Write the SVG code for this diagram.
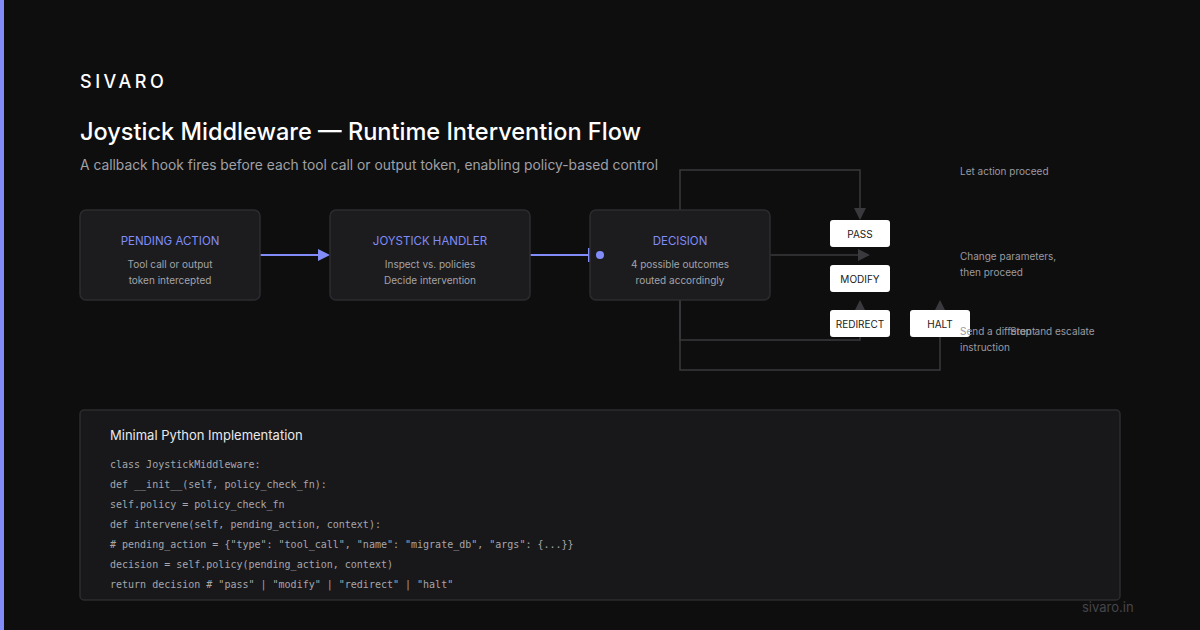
<svg xmlns="http://www.w3.org/2000/svg" width="1200" height="630" viewBox="0 0 1200 630">
<style>
.node rect{fill:#1c1c1f;stroke:#2c2c30;stroke-width:1.5}
.nt{font-family:Inter,"Liberation Sans",sans-serif;font-size:11.5px;fill:#818cf8;text-anchor:middle}
.ns{font-family:Inter,"Liberation Sans",sans-serif;font-size:10px;fill:#a3a3a8;text-anchor:middle}
.out rect{fill:#ffffff}
.ot{font-family:Inter,"Liberation Sans",sans-serif;font-size:10px;fill:#1a1a1a;text-anchor:middle}
.lbl{font-family:Inter,"Liberation Sans",sans-serif;font-size:10px;fill:#9a9aa0}
.flow{fill:none;stroke:#3a3a3e;stroke-width:1.5}
.code{font-family:"DejaVu Sans Mono","Liberation Mono",monospace;font-size:10px;fill:#a6a6aa}
</style>
<defs>
<marker id="ah" viewBox="0 0 12 12" refX="0" refY="6" markerWidth="12" markerHeight="12" markerUnits="userSpaceOnUse" orient="auto">
<path d="M0,0 L12,6 L0,12 Z" fill="#818cf8"/>
</marker>
<marker id="gh" viewBox="0 0 12 12" refX="0" refY="6" markerWidth="12" markerHeight="12" markerUnits="userSpaceOnUse" orient="auto">
<path d="M0,0 L12,6 L0,12 Z" fill="#3a3a3e"/>
</marker>
</defs>
<rect width="1200" height="630" fill="#0e0e0f"/>
<rect x="0" y="0" width="4" height="630" fill="#818cf8"/>
<text x="80" y="88" font-family="Inter,'Liberation Sans',sans-serif" font-size="18" font-weight="500" letter-spacing="3.5" fill="#ffffff">SIVARO</text>
<text x="80" y="140" font-family="Inter,'Liberation Sans',sans-serif" font-size="24" font-weight="500" textLength="561" lengthAdjust="spacingAndGlyphs" fill="#ffffff">Joystick Middleware — Runtime Intervention Flow</text>
<text x="80" y="170" font-family="Inter,'Liberation Sans',sans-serif" font-size="14" textLength="578" lengthAdjust="spacingAndGlyphs" fill="#a0a0a5">A callback hook fires before each tool call or output token, enabling policy-based control</text>

<g id="connectors">
<line x1="260" y1="255" x2="318" y2="255" stroke="#818cf8" stroke-width="2" marker-end="url(#ah)"/>
<line x1="530" y1="255" x2="589" y2="255" stroke="#818cf8" stroke-width="2"/>
<line x1="589" y1="248" x2="589" y2="262" stroke="#818cf8" stroke-width="2"/>
<path class="flow" d="M680,210 V170 H860 V208" marker-end="url(#gh)"/>
<path class="flow" d="M770,255 H858" marker-end="url(#gh)"/>
<path class="flow" d="M680,300 V340 H860 V312" marker-end="url(#gh)"/>
<path class="flow" d="M680,300 V370 H940 V312" marker-end="url(#gh)"/>
</g>

<g id="pending" class="node">
<rect x="80" y="210" width="180" height="90" rx="6"/>
<text class="nt" x="170" y="245">PENDING ACTION</text>
<text class="ns" x="170" y="268">Tool call or output</text>
<text class="ns" x="170" y="284">token intercepted</text>
</g>
<g id="handler" class="node">
<rect x="330" y="210" width="200" height="90" rx="6"/>
<text class="nt" x="430" y="245">JOYSTICK HANDLER</text>
<text class="ns" x="430" y="268">Inspect vs. policies</text>
<text class="ns" x="430" y="284">Decide intervention</text>
</g>
<g id="decision" class="node">
<rect x="590" y="210" width="180" height="90" rx="6"/>
<circle cx="600" cy="255" r="4" fill="#818cf8"/>
<text class="nt" x="680" y="245">DECISION</text>
<text class="ns" x="680" y="268">4 possible outcomes</text>
<text class="ns" x="680" y="284">routed accordingly</text>
</g>

<g id="pass" class="out">
<rect x="830" y="220" width="60" height="27" rx="3"/>
<text class="ot" x="860" y="237.5">PASS</text>
</g>
<g id="modify" class="out">
<rect x="830" y="265" width="60" height="27" rx="3"/>
<text class="ot" x="860" y="282.5">MODIFY</text>
</g>
<g id="redirect" class="out">
<rect x="830" y="310" width="60" height="27" rx="3"/>
<text class="ot" x="860" y="327.5">REDIRECT</text>
</g>
<g id="halt" class="out">
<rect x="910" y="310" width="60" height="27" rx="3"/>
<text class="ot" x="940" y="327.5">HALT</text>
</g>

<g id="labels">
<text class="lbl" x="960" y="175">Let action proceed</text>
<text class="lbl" x="960" y="260">Change parameters,</text>
<text class="lbl" x="960" y="276">then proceed</text>
<text class="lbl" x="960" y="335">Send a different</text>
<text class="lbl" x="960" y="351">instruction</text>
<text class="lbl" x="1010" y="335">Stop and escalate</text>
</g>

<g id="code">
<rect x="80" y="410" width="1040" height="190" rx="4" fill="#18181b" stroke="#2c2c30" stroke-width="1.5"/>
<text x="110" y="440" font-family="Inter,'Liberation Sans',sans-serif" font-size="13" fill="#e8e8ea">Minimal Python Implementation</text>
<text class="code" x="110" y="468">class JoystickMiddleware:</text>
<text class="code" x="110" y="488">def __init__(self, policy_check_fn):</text>
<text class="code" x="110" y="508">self.policy = policy_check_fn</text>
<text class="code" x="110" y="528">def intervene(self, pending_action, context):</text>
<text class="code" x="110" y="548"># pending_action = {"type": "tool_call", "name": "migrate_db", "args": {...}}</text>
<text class="code" x="110" y="568">decision = self.policy(pending_action, context)</text>
<text class="code" x="110" y="588">return decision # "pass" | "modify" | "redirect" | "halt"</text>
</g>
<text x="1082" y="612" font-family="Inter,'Liberation Sans',sans-serif" font-size="13" fill="#45454a">sivaro.in</text>
</svg>
